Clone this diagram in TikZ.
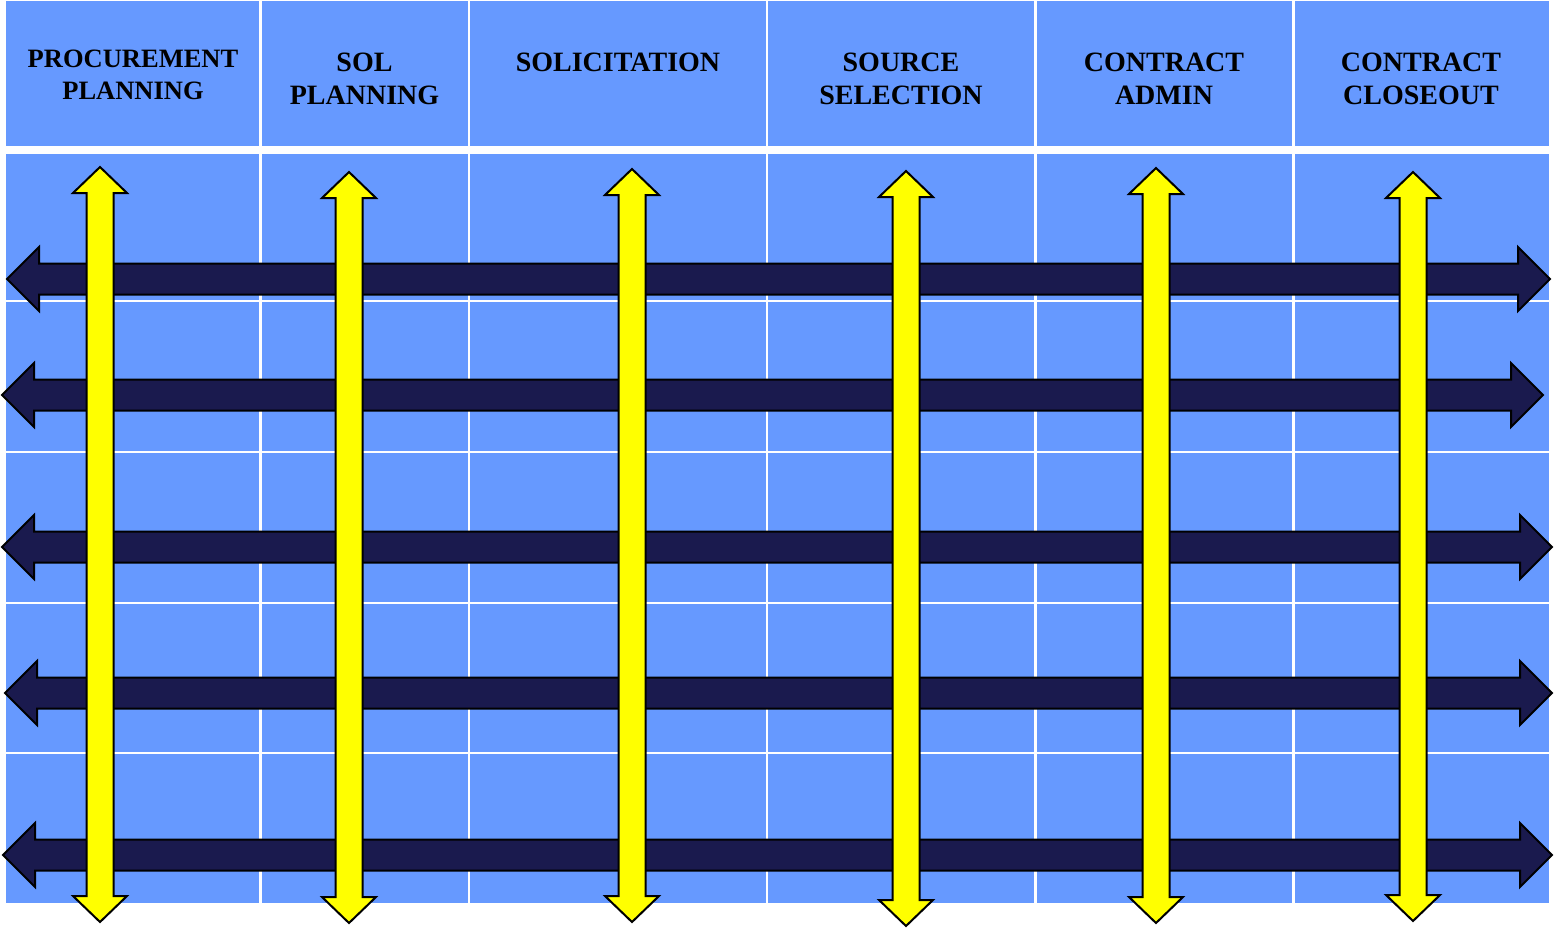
\documentclass[tikz,border=0pt]{standalone}
\usepackage{fontspec}
\setmainfont{Liberation Serif}
\definecolor{cellblue}{HTML}{6699FF}
\definecolor{navyarrow}{HTML}{1A1A4E}
\definecolor{arrowyellow}{HTML}{FFFF00}

\tikzset{
  lanearrowstyle/.style={fill=navyarrow, draw=black, line width=2pt, line join=miter},
  phasearrowstyle/.style={fill=arrowyellow, draw=black, line width=2pt, line join=miter},
  gridline/.style={draw=white, line width=2.5pt},
  headtext/.style={font=\fontsize{28}{33}\selectfont\bfseries, anchor=base, inner sep=0pt},
  headtextsmall/.style={font=\fontsize{26.5}{31}\selectfont\bfseries, anchor=base, inner sep=0pt}
}

% horizontal double arrow: left tip x, right tip x, centre y
\newcommand\lanearrow[3]{%
  \draw[lanearrowstyle] (#1,#3) -- ({#1+32},{#3-32}) -- ({#1+32},{#3-15.5})
    -- ({#2-32},{#3-15.5}) -- ({#2-32},{#3-32}) -- (#2,#3)
    -- ({#2-32},{#3+32}) -- ({#2-32},{#3+15.5}) -- ({#1+32},{#3+15.5})
    -- ({#1+32},{#3+32}) -- cycle;}

% vertical double arrow: centre x, top tip y, bottom tip y
\newcommand\phasearrow[3]{%
  \draw[phasearrowstyle] (#1,#2) -- ({#1+27},{#2+26}) -- ({#1+13.5},{#2+26})
    -- ({#1+13.5},{#3-26}) -- ({#1+27},{#3-26}) -- (#1,#3)
    -- ({#1-27},{#3-26}) -- ({#1-13.5},{#3-26}) -- ({#1-13.5},{#2+26})
    -- ({#1-27},{#2+26}) -- cycle;}

\begin{document}
\begin{tikzpicture}[x=1pt, y=-1pt]
  \useasboundingbox[fill=white] (0,0) rectangle (1556,930);

  % table: header row and body
  \fill[cellblue] (6,1) rectangle (1549,146);
  \fill[cellblue] (6,154) rectangle (1549,903);

  % column separators
  \foreach \cx in {260.5, 469, 767, 1035.5, 1293.5}
    \draw[gridline] (\cx,1) -- (\cx,903);
  % row separators
  \foreach \ry in {301, 452, 603, 753}
    \draw[gridline] (6,\ry) -- (1549,\ry);

  % horizontal flows
  \lanearrow{7}{1550}{279}
  \lanearrow{2}{1543}{395}
  \lanearrow{2}{1552}{547}
  \lanearrow{5}{1552}{693}
  \lanearrow{3}{1552}{855}

  % vertical flows
  \phasearrow{100}{167}{922}
  \phasearrow{349}{172}{923}
  \phasearrow{632}{169}{922}
  \phasearrow{906}{171}{926}
  \phasearrow{1156}{168}{923}
  \phasearrow{1413}{172}{921}

  % phase headings
  \node[headtextsmall] (h1a) at (133,67) {PROCUREMENT};
  \node[headtextsmall] (h1b) at (133,99) {PLANNING};
  \node[headtext] (h2a) at (364.5,71) {SOL};
  \node[headtext] (h2b) at (364.5,104) {PLANNING};
  \node[headtext] (h3a) at (618,71) {SOLICITATION};
  \node[headtext] (h4a) at (901,71) {SOURCE};
  \node[headtext] (h4b) at (901,104) {SELECTION};
  \node[headtext] (h5a) at (1164,71) {CONTRACT};
  \node[headtext] (h5b) at (1164,104) {ADMIN};
  \node[headtext] (h6a) at (1421,71) {CONTRACT};
  \node[headtext] (h6b) at (1421,104) {CLOSEOUT};
\end{tikzpicture}
\end{document}
